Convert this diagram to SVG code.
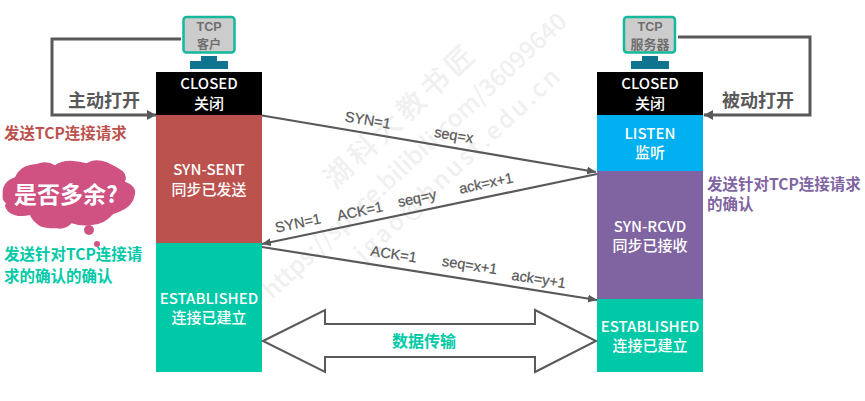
<svg xmlns="http://www.w3.org/2000/svg" width="865" height="401" viewBox="0 0 865 401">
<style>
text{font-family:"Noto Sans CJK SC","Noto Sans",sans-serif;text-anchor:middle}
.w{fill:#fff;font-size:15px;font-weight:500}
.g{fill:#595959;font-size:18px;font-weight:700}
.m{fill:#595959;font-size:14.500px;font-family:"Liberation Sans",sans-serif;font-weight:400;stroke:#595959;stroke-width:.25}
.l{text-anchor:start;font-size:15.500px;font-weight:700}
.mark{fill:#f0f0f0;font-size:24px;font-weight:500;text-anchor:start}
.c{fill:none;stroke:#595959;stroke-width:2.200}
.t{fill:#6f6f6f;font-size:12.500px;font-weight:700;font-family:"Liberation Sans",sans-serif}
.u{fill:#6f6f6f;font-size:12px;font-weight:700;font-family:"Noto Sans CJK SC",sans-serif}
</style>
<defs>
<marker id="a" markerWidth="9" markerHeight="10" refX="9" refY="5" orient="auto" markerUnits="userSpaceOnUse"><path d="M0 0L9 5L0 10Z" fill="#595959"/></marker>
<marker id="b" markerWidth="9" markerHeight="8" refX="9" refY="4" orient="auto" markerUnits="userSpaceOnUse"><path d="M0 0L9 4L0 8Z" fill="#595959"/></marker>
</defs>
<rect width="865" height="401" fill="#fff"/>
<g id="watermark">
<text class="mark" style="font-size:28px;letter-spacing:5px" transform="translate(335 190) rotate(-43)">湖科大教书匠</text>
<text class="mark" transform="translate(272 300) rotate(-43)">https://space.bilibili.com/36099640</text>
<text class="mark" style="letter-spacing:3px" transform="translate(364 263) rotate(-43)">jgao@hnust.edu.cn</text>
</g>
<g id="client-pc">
<rect x="183.500" y="17" width="51" height="35.500" rx="3" fill="#ccc" stroke="#14b89a" stroke-width="2.500"/>
<text class="t" x="209" y="31">TCP</text><text class="u" x="209" y="48.500">客户</text>
<path d="M201 56h16v5h11v8h-38v-8h11z" fill="#0e7490"/>
</g>
<g id="server-pc">
<rect x="624" y="17" width="51" height="35.500" rx="3" fill="#ccc" stroke="#14b89a" stroke-width="2.500"/>
<text class="t" x="650" y="31">TCP</text><text class="u" x="650" y="48.500" style="font-size:13px">服务器</text>
<path d="M642 56h16v5h11v8h-38v-8h11z" fill="#0e7490"/>
</g>
<g id="client-closed"><rect x="156" y="72" width="106" height="43" fill="#000"/><text class="w" x="209" y="89">CLOSED</text><text class="w" x="209" y="109">关闭</text></g>
<g id="client-syn-sent"><rect x="156" y="115" width="106" height="128" fill="#bc524e"/><text class="w" x="209" y="175">SYN-SENT</text><text class="w" x="209" y="195">同步已发送</text></g>
<g id="client-established"><rect x="156" y="243" width="106" height="129" fill="#00c9a7"/><text class="w" x="209" y="304">ESTABLISHED</text><text class="w" x="209" y="323">连接已建立</text></g>
<g id="server-closed"><rect x="597" y="72" width="106" height="43" fill="#000"/><text class="w" x="650" y="89">CLOSED</text><text class="w" x="650" y="109">关闭</text></g>
<g id="server-listen"><rect x="597" y="115" width="106" height="56" fill="#00b0f0"/><text class="w" x="650" y="139">LISTEN</text><text class="w" x="650" y="158">监听</text></g>
<g id="server-syn-rcvd"><rect x="597" y="171" width="106" height="128" fill="#8064a2"/><text class="w" x="650" y="232">SYN-RCVD</text><text class="w" x="650" y="251">同步已接收</text></g>
<g id="server-established"><rect x="597" y="299" width="106" height="73" fill="#00c9a7"/><text class="w" x="650" y="332">ESTABLISHED</text><text class="w" x="650" y="351">连接已建立</text></g>
<g id="connectors">
<path class="c" style="stroke-width:3" d="M181 39H52V115H156" marker-end="url(#a)"/>
<path class="c" style="stroke-width:3" d="M678 37H810V115H704" marker-end="url(#a)"/>
<path class="c" d="M262 115.500L596 172" marker-end="url(#b)"/>
<path class="c" d="M597 174L262 244" marker-end="url(#b)"/>
<path class="c" d="M262 247L597 300" marker-end="url(#b)"/>
<path d="M263 341L325 310V324H535V310L596 341L535 372V357H325V372Z" fill="#fff" stroke="#595959" stroke-width="2"/>
</g>
<g id="labels">
<text class="g" x="104" y="107">主动打开</text>
<text class="g" x="758" y="107">被动打开</text>
<text class="l" x="4" y="139" fill="#bc524e">发送TCP连接请求</text>
<text class="l" x="707" y="190" fill="#8064a2">发送针对TCP连接请求</text>
<text class="l" x="707" y="210" fill="#8064a2">的确认</text>
<text class="l" x="4" y="260" fill="#00c9a7">发送针对TCP连接请</text>
<text class="l" x="4" y="282" fill="#00c9a7">求的确认的确认</text>
<text x="424" y="347" fill="#00c9a7" font-size="16" font-weight="700">数据传输</text>
<text class="m" transform="translate(367 125) rotate(9.500)">SYN=1</text>
<text class="m" transform="translate(453 140) rotate(9.500)">seq=x</text>
<text class="m" transform="translate(299 228) rotate(-12)">SYN=1</text>
<text class="m" transform="translate(361 216) rotate(-12)">ACK=1</text>
<text class="m" transform="translate(418 203) rotate(-12)">seq=y</text>
<text class="m" transform="translate(487 188) rotate(-12)">ack=x+1</text>
<text class="m" transform="translate(393 259) rotate(9)">ACK=1</text>
<text class="m" transform="translate(469 270) rotate(9)">seq=x+1</text>
<text class="m" transform="translate(538 284) rotate(9)">ack=y+1</text>
</g>
<g id="cloud">
<path transform="translate(0 140) scale(.3333)" d="M8 165Q5 125 45 112Q60 75 110 72Q140 60 165 76Q195 52 260 70Q295 45 355 85Q385 100 375 125Q415 140 403 170Q395 205 340 222Q310 255 275 255Q245 260 215 250Q195 270 170 265Q125 265 115 255Q95 240 90 225Q50 235 25 215Q10 200 18 190Q5 180 8 165Z" fill="#d05283"/>
<circle cx="89" cy="230" r="5" fill="#d05283"/><circle cx="97" cy="244" r="3" fill="#d05283"/>
<text x="66" y="203" fill="#fff" font-size="23" font-weight="700">是否多余?</text>
</g>
</svg>
